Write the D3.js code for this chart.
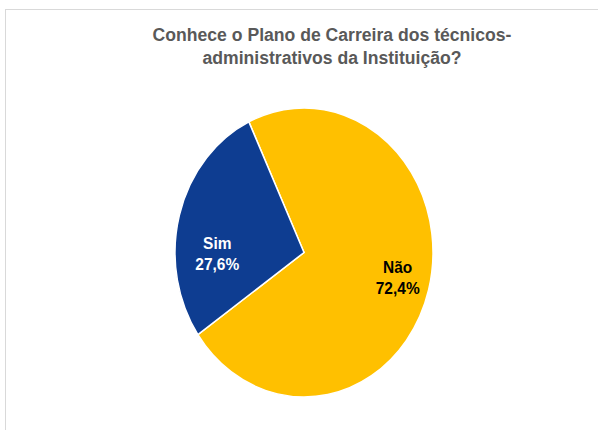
<!DOCTYPE html>
<html>
<head>
<meta charset="utf-8">
<script src="https://cdn.jsdelivr.net/npm/d3@7"></script>
<style>
  body { margin: 0; background: #fff; }
  text { font-family: Arial, "Liberation Sans", sans-serif; }
</style>
</head>
<body>
<div id="chart"></div>
<script>
// chart data
var categories = ["Não", "Sim"];
var values = [72.4, 27.6];
var valueLabels = ["72,4%", "27,6%"];
var titleLines = ["Conhece o Plano de Carreira dos técnicos-", "administrativos da Instituição?"];

var w = 598;
var h = 430;
var colors = d3.scaleOrdinal().domain(categories).range(["#ffc000", "#0e3d91"]);
var textColors = d3.scaleOrdinal().domain(categories).range(["#000000", "#ffffff"]);

// pie geometry (the pie is a bit taller than wide in the picture)
var cx = 304, cy = 252.5;
var r = 129;
var ky = 144.5 / 129;
var startDeg = -25.3;
var labelR = 0.72;
var nudge = { "Não": [4, -3], "Sim": [3, 27] };

var svg = d3.select("#chart")
	.append("svg")
	.attr("width", w)
	.attr("height", h);

// chart frame
svg.append("rect")
	.attr("x", 5.5)
	.attr("y", 9.5)
	.attr("width", w + 10)
	.attr("height", h + 10)
	.attr("fill", "none")
	.attr("stroke", "#d9d9d9")
	.attr("stroke-width", 1);

// title
svg.append("text")
	.attr("x", 332)
	.attr("y", 41)
	.attr("text-anchor", "middle")
	.attr("font-size", "17.6px")
	.attr("font-weight", "bold")
	.attr("fill", "#595959")
	.selectAll("tspan")
	.data(titleLines)
	.enter()
	.append("tspan")
	.attr("x", 332)
	.attr("dy", function(d, i) { return i === 0 ? 0 : 22.5; })
	.text(function(d) { return d; });

var pie = d3.pie()
	.sort(null)
	.value(function(d) { return d.value; })
	.startAngle(startDeg * Math.PI / 180)
	.endAngle((startDeg + 360) * Math.PI / 180);

var dataset = categories.map(function(c, i) {
	return { name: c, value: values[i], label: valueLabels[i] };
});
var arcs = pie(dataset);

var arc = d3.arc().innerRadius(0).outerRadius(r);

svg.append("g")
	.attr("transform", "translate(" + cx + "," + cy + ") scale(1," + ky + ")")
	.selectAll("path")
	.data(arcs)
	.enter()
	.append("path")
	.attr("d", arc)
	.attr("fill", function(d) { return colors(d.data.name); })
	.attr("stroke", "#ffffff")
	.attr("stroke-width", 1.5)
	.attr("vector-effect", "non-scaling-stroke");

// data labels
var labelArc = d3.arc().innerRadius(r * labelR).outerRadius(r * labelR);

var labels = svg.append("g")
	.selectAll("text")
	.data(arcs)
	.enter()
	.append("text")
	.attr("text-anchor", "middle")
	.attr("font-size", "15.5px")
	.attr("font-weight", "bold")
	.attr("fill", function(d) { return textColors(d.data.name); })
	.attr("transform", function(d) {
		var c = labelArc.centroid(d);
		var n = nudge[d.data.name];
		return "translate(" + (cx + c[0] + n[0]) + "," + (cy + c[1] * ky + n[1]) + ") scale(1,1.12)";
	});

labels.append("tspan")
	.attr("x", 0)
	.attr("y", -3.5)
	.text(function(d) { return d.data.name; });

labels.append("tspan")
	.attr("x", 0)
	.attr("y", 16)
	.text(function(d) { return d.data.label; });
</script>
</body>
</html>
